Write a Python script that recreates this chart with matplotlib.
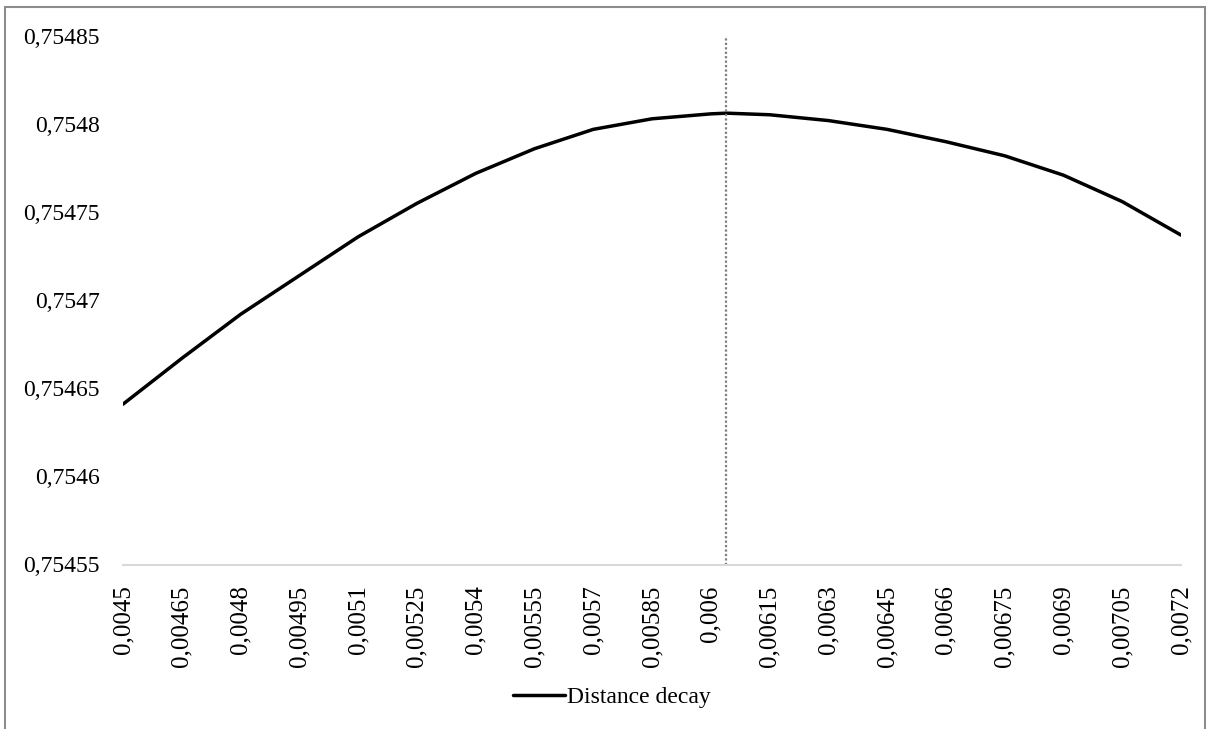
import matplotlib
matplotlib.use("Agg")
import matplotlib.pyplot as plt
from matplotlib.patches import Rectangle

plt.rcParams['font.family'] = ['Liberation Serif', 'DejaVu Serif']

# distance decay parameter (x) and fitted value (y), read at each axis label
x_labels = ['0,0045', '0,00465', '0,0048', '0,00495', '0,0051', '0,00525', '0,0054',
            '0,00555', '0,0057', '0,00585', '0,006', '0,00615', '0,0063', '0,00645',
            '0,0066', '0,00675', '0,0069', '0,00705', '0,0072']
x_ticks = [0.0045, 0.00465, 0.0048, 0.00495, 0.0051, 0.00525, 0.0054, 0.00555, 0.0057,
           0.00585, 0.006, 0.00615, 0.0063, 0.00645, 0.0066, 0.00675, 0.0069, 0.00705, 0.0072]
x_vals = [0.0045, 0.00465, 0.0048, 0.00495, 0.0051, 0.00525, 0.0054, 0.00555, 0.0057,
          0.00585, 0.006, 0.00604, 0.00615, 0.0063, 0.00645, 0.0066, 0.00675, 0.0069,
          0.00705, 0.0072]
y_vals = [0.754641, 0.754667, 0.754692, 0.754714, 0.754736, 0.754755, 0.754772,
          0.754786, 0.754797, 0.754803, 0.7548058, 0.7548062, 0.7548053, 0.754802,
          0.754797, 0.754790, 0.754782, 0.754771, 0.754756, 0.754737]
y_ticks = [0.75455, 0.7546, 0.75465, 0.7547, 0.75475, 0.7548, 0.75485]
y_labels = ['0,75455', '0,7546', '0,75465', '0,7547', '0,75475', '0,7548', '0,75485']
x_max = 0.00604  # position of the maximum (dotted marker)

W, H = 1211, 729
fig = plt.figure(figsize=(W / 100, H / 100), dpi=100)
ax = fig.add_axes([123 / W, 1 - 564.5 / H, (1181 - 123) / W, (564.5 - 36) / H])

ax.plot(x_vals, y_vals, color='black', lw=2.5, solid_capstyle='round',
        solid_joinstyle='round', label='Distance decay')
ax.plot([x_max, x_max], [y_ticks[0], y_ticks[-1]], color='#7f7f7f', lw=1.6,
        linestyle=(0, (1, 1)))

ax.set_xlim(x_ticks[0], x_ticks[-1])
ax.set_ylim(y_ticks[0], y_ticks[-1])
ax.set_xticks(x_ticks)
ax.set_xticklabels(x_labels, rotation=90, fontsize=18)
ax.set_yticks(y_ticks)
ax.set_yticklabels(y_labels, fontsize=17)
ax.tick_params(axis='x', length=0, pad=15)
ax.tick_params(axis='y', length=0, pad=17)
for s in ['top', 'right', 'left']:
    ax.spines[s].set_visible(False)
ax.spines['bottom'].set_color('#d9d9d9')
ax.spines['bottom'].set_linewidth(1.5)

fig.legend(handles=ax.lines[:1], loc='center', bbox_to_anchor=(612 / W, 1 - 697 / H),
           frameon=False, fontsize=17, handlelength=2.2, handletextpad=0.1)

# outer chart frame
fig.patches.append(Rectangle((5 / W, -0.05), 1200 / W, 1.05 - 7 / H, transform=fig.transFigure,
                             fill=False, edgecolor='#8c8c8c', lw=1.5))

fig.savefig('out.png', dpi=100, facecolor='white')
